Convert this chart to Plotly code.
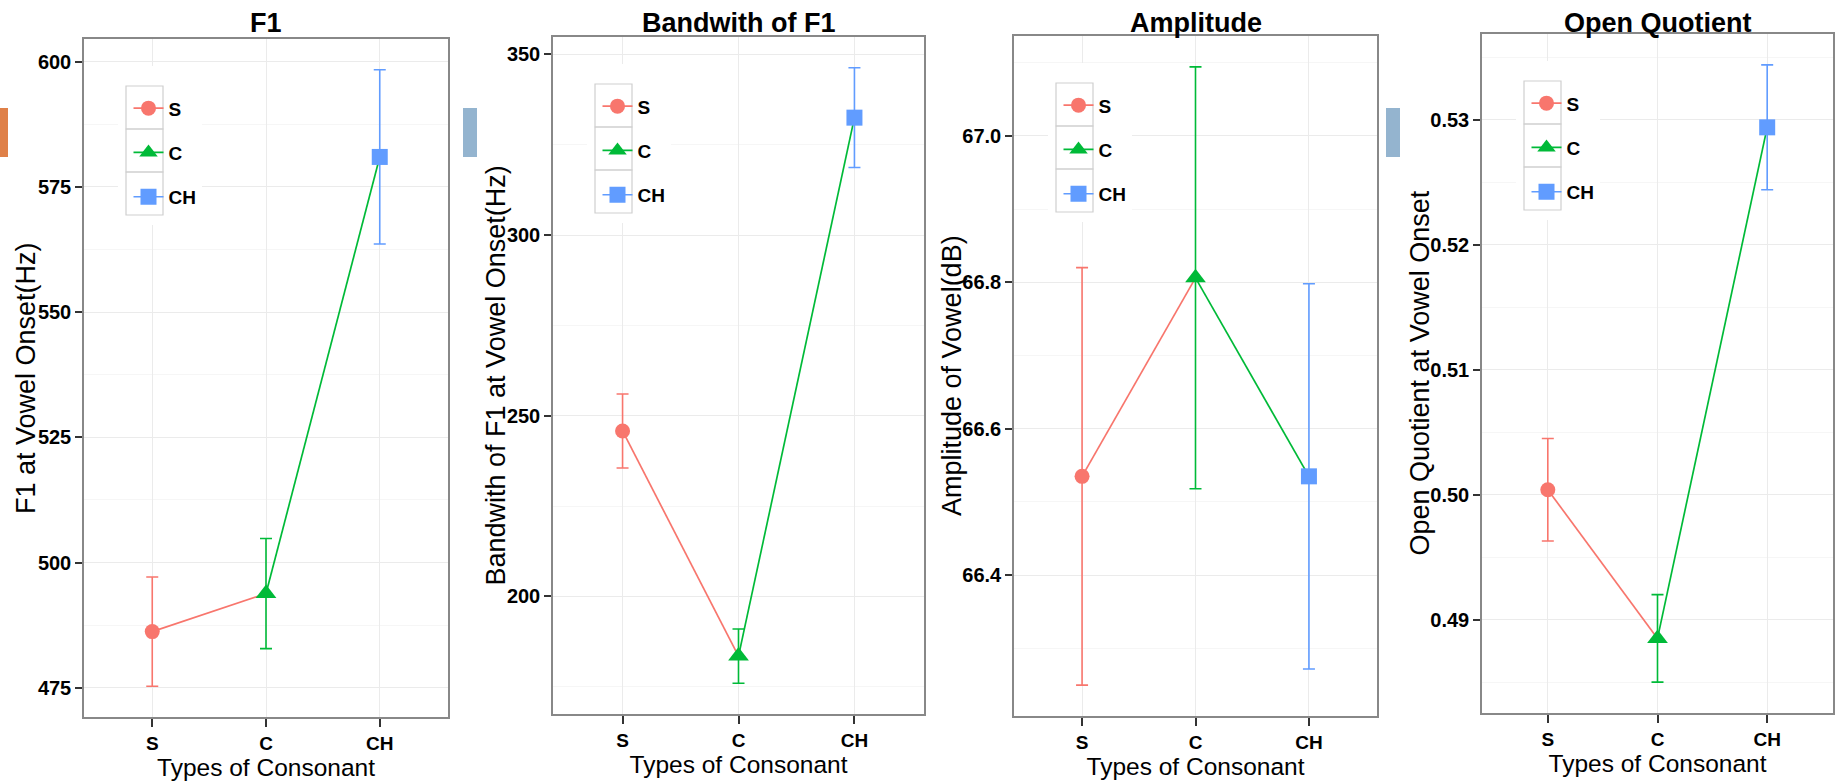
import plotly.graph_objects as go

# ---------------- data ----------------
categories = ["S", "C", "CH"]
panel_titles = ["F1", "Bandwith of F1", "Amplitude", "Open Quotient"]
y_titles = ["F1 at Vowel Onset(Hz)",
            "Bandwith of F1 at Vowel Onset(Hz)",
            "Amplitude of Vowel(dB)",
            "Open Quotient at Vowel Onset"]
x_title = "Types of Consonant"

f1_mean = [486.2, 493.8, 581.0]
f1_err = [10.9, 11.0, 17.4]
bw_mean = [245.8, 183.5, 332.5]
bw_err = [10.25, 7.5, 13.8]
amp_mean = [66.535, 66.806, 66.535]
amp_err = [0.285, 0.288, 0.263]
oq_mean = [0.5004, 0.4885, 0.5294]
oq_err = [0.0041, 0.0035, 0.0050]

y_dticks = [25, 50, 0.2, 0.01]
y_formats = ["d", "d", ".1f", ".2f"]

means = [f1_mean, bw_mean, amp_mean, oq_mean]
errs = [f1_err, bw_err, amp_err, oq_err]

# ---------------- style ----------------
W, H = 1836, 782
colors = ["#F8766D", "#00BA38", "#619CFF"]
symbols = ["circle", "triangle-up", "square"]
sizes = [15, 18, 16]
FONT = "Liberation Sans"
# panel boxes in pixels: left, right, top, bottom
boxes = [(84, 448, 39, 717), (553, 924, 37, 714),
         (1014, 1377, 36, 716), (1482, 1833, 34, 713)]
ytitle_x = [26, 495, 952, 1419]


def px(x):
    return x / W


def py(y):
    return 1 - y / H


fig = go.Figure()
layout = dict(width=W, height=H, margin=dict(l=0, r=0, t=0, b=0),
              paper_bgcolor="white", plot_bgcolor="white",
              font=dict(family=FONT, color="black"),
              shapes=[], annotations=[])

for i in range(4):
    n = "" if i == 0 else str(i + 1)
    xref, yref = "x" + n, "y" + n
    legname = "legend" + n
    m, e = means[i], errs[i]
    l, r, t, b = boxes[i]

    # connecting segments (coloured by start point, as in ggplot)
    for j in range(2):
        fig.add_trace(go.Scatter(
            x=categories[j:j + 2], y=m[j:j + 2], mode="lines",
            line=dict(color=colors[j], width=1.7),
            showlegend=False, hoverinfo="skip", xaxis=xref, yaxis=yref))
    # points with error bars
    for j in range(3):
        fig.add_trace(go.Scatter(
            x=[categories[j]], y=[m[j]], mode="lines+markers",
            name=categories[j],
            marker=dict(symbol=symbols[j], size=sizes[j], color=colors[j]),
            line=dict(color=colors[j], width=1.7),
            error_y=dict(type="data", array=[e[j]], color=colors[j],
                         thickness=1.6, width=6),
            legend=legname, legendgroup=f"g{i}{j}",
            xaxis=xref, yaxis=yref))

    lo = min(mm - ee for mm, ee in zip(m, e))
    hi = max(mm + ee for mm, ee in zip(m, e))
    pad = (hi - lo) * 0.05
    d = y_dticks[i]

    layout["xaxis" + n] = dict(
        domain=[px(l), px(r)], anchor=yref, type="category",
        categoryorder="array", categoryarray=categories,
        range=[-0.6, 2.6], showgrid=True, gridcolor="#EBEBEB", gridwidth=1.4,
        showline=True, linecolor="#888888", linewidth=1.5, mirror=True,
        ticks="outside", ticklen=8, tickwidth=1.5, tickcolor="#333333",
        tickfont=dict(family=FONT, size=19, weight="bold", color="black"),
        title=dict(text=x_title, font=dict(family=FONT, size=24.5, color="black"),
                   standoff=2),
        automargin=False, zeroline=False, fixedrange=True)
    layout["yaxis" + n] = dict(
        domain=[py(b), py(t)], anchor=xref,
        range=[lo - pad, hi + pad], tick0=0, dtick=d, tickformat=y_formats[i],
        showgrid=True, gridcolor="#EBEBEB", gridwidth=1.4,
        minor=dict(dtick=d / 2, tick0=0, showgrid=True, gridcolor="#F6F6F6",
                   gridwidth=1, ticks=""),
        showline=True, linecolor="#888888", linewidth=1.5, mirror=True,
        ticks="outside", ticklen=7, tickwidth=1.5, tickcolor="#333333",
        tickfont=dict(family=FONT, size=20, weight="bold", color="black"),
        automargin=False, zeroline=False, fixedrange=True)

    # y-axis title
    layout["annotations"].append(dict(
        text=y_titles[i], xref="paper", yref="paper", textangle=-90,
        x=px(ytitle_x[i]), y=py((t + b) / 2), xanchor="center", yanchor="middle",
        showarrow=False, font=dict(family=FONT, size=27, color="black")))

    # legend (inside panel, top-left)
    kx, ky = l + 42, t + 47
    layout[legname] = dict(
        x=px(kx + 18.5 - 16), xanchor="left",
        y=py(ky + 21.5 - 18.2), yanchor="top",
        bgcolor="rgba(0,0,0,0)", borderwidth=0, tracegroupgap=16.6,
        font=dict(family=FONT, size=19, weight="bold", color="black"))
    # legend background and key boxes
    layout["shapes"].append(dict(
        type="rect", xref="paper", yref="paper", layer="above",
        x0=px(l + 34), x1=px(l + 118), y0=py(t + 186), y1=py(t + 27),
        fillcolor="white", line=dict(width=0)))
    for k in range(3):
        layout["shapes"].append(dict(
            type="rect", xref="paper", yref="paper", layer="above",
            x0=px(kx), x1=px(kx + 37), y0=py(ky + 43 * (k + 1)), y1=py(ky + 43 * k),
            fillcolor="rgba(0,0,0,0)", line=dict(color="#CFCFCF", width=1.2)))

    # panel title
    layout["annotations"].append(dict(
        text=panel_titles[i], xref="paper", yref="paper",
        x=px((l + r) / 2), y=py(23), xanchor="center", yanchor="middle",
        showarrow=False, font=dict(family=FONT, size=27, weight="bold", color="black")))

# side colour tabs visible in the original screenshot
for (x0, x1, c) in [(0, 8, "#DF8048"), (463, 477, "#94B4CF"), (1386, 1400, "#94B4CF")]:
    layout["shapes"].append(dict(
        type="rect", xref="paper", yref="paper", layer="above",
        x0=px(x0), x1=px(x1), y0=py(157), y1=py(108),
        fillcolor=c, line=dict(width=0)))

fig.update_layout(**layout)
fig.write_html("out.html", config={"displayModeBar": False},
               post_script="document.body.style.margin='0';document.body.style.overflow='hidden';")
